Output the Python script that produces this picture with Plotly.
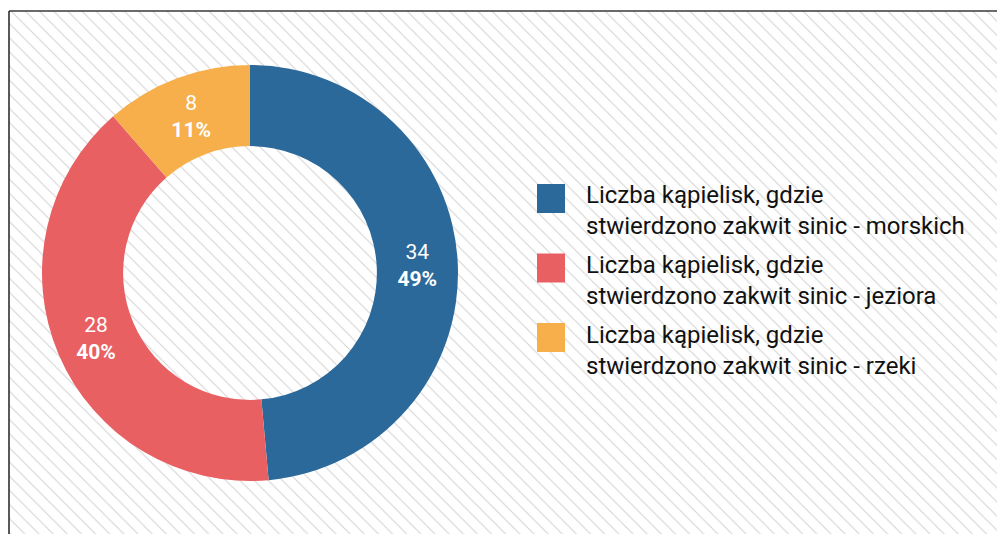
import plotly.graph_objects as go

# ---- data ----
categories = [
    "Liczba kąpielisk, gdzie stwierdzono zakwit sinic - morskich",
    "Liczba kąpielisk, gdzie stwierdzono zakwit sinic - jeziora",
    "Liczba kąpielisk, gdzie stwierdzono zakwit sinic - rzeki",
]
values = [34, 28, 8]
colors = ["#2B699B", "#E86062", "#F7AF4B"]

W, H = 997, 534
FONT = "Roboto"

fig = go.Figure()

# hatched background panel
fig.add_trace(go.Scatter(
    x=[9, W + 5, W + 5, 9, 9], y=[-5, -5, H - 11, H - 11, -5],
    fill="toself", mode="none",
    fillpattern=dict(shape="\\", size=10, solidity=0.1,
                     fgcolor="#d2d2d2", bgcolor="white", fillmode="replace"),
    hoverinfo="skip", showlegend=False,
))

# donut
fig.add_trace(go.Pie(
    labels=categories, values=values, hole=0.61,
    sort=False, direction="clockwise", rotation=0,
    marker=dict(colors=colors, line=dict(width=0)),
    texttemplate="%{value}<br><b>%{percent:.0%}</b>",
    textposition="inside", insidetextorientation="horizontal",
    textfont=dict(family=FONT, size=21, color="white"),
    domain=dict(x=[42 / W, 458 / W], y=[(H - 481) / H, (H - 65) / H]),
    showlegend=False, hoverinfo="label+value+percent",
))

shapes = [
    dict(type="line", xref="paper", yref="paper", x0=9 / W, x1=1.01,
         y0=1 - 11 / H, y1=1 - 11 / H, line=dict(color="#3a3a3a", width=1.5)),
    dict(type="line", xref="paper", yref="paper", x0=9 / W, x1=9 / W,
         y0=-0.01, y1=1 - 11 / H, line=dict(color="#222222", width=1.5)),
]
annotations = []

# custom legend (large swatches)
step = 69.5
for i, (cat, col) in enumerate(zip(categories, colors)):
    top = 184 + step * i
    shapes.append(dict(type="rect", xref="paper", yref="paper",
                       x0=537 / W, x1=565 / W, y0=1 - top / H, y1=1 - (top + 29) / H,
                       fillcolor=col, line=dict(width=0)))
    cut = cat.index("gdzie") + len("gdzie")
    txt = cat[:cut] + "<br>" + cat[cut + 1:]
    annotations.append(dict(
        xref="paper", yref="paper", x=584 / W, y=1 - (211 + step * i) / H,
        xanchor="left", yanchor="middle", align="left", text=txt, showarrow=False,
        font=dict(family=FONT, size=24, color="#111111"),
    ))

fig.update_layout(
    width=W, height=H, autosize=False,
    margin=dict(l=0, r=0, t=0, b=0),
    paper_bgcolor="white", plot_bgcolor="white",
    xaxis=dict(range=[0, W], visible=False, fixedrange=True, domain=[0, 1]),
    yaxis=dict(range=[0, H], visible=False, fixedrange=True, domain=[0, 1]),
    shapes=shapes, annotations=annotations,
    font=dict(family=FONT),
    showlegend=False,
)

fig.write_html(
    "out.html",
    config={"displayModeBar": False},
    post_script="document.body.style.margin='0px';document.body.style.overflow='hidden';",
)
